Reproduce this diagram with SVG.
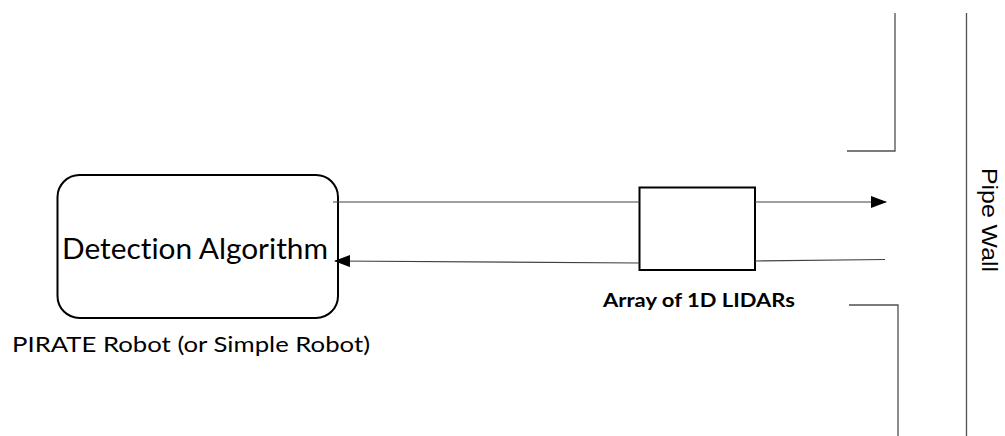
<svg xmlns="http://www.w3.org/2000/svg" width="1005" height="436" viewBox="0 0 1005 436">
<style>
.node{fill:#fff;stroke:#000;stroke-width:2}
.conn{fill:none;stroke:#404040;stroke-width:1.2}
.wall{fill:none;stroke:#505050;stroke-width:1.3}
.t{font-family:Lato,"Open Sans","Liberation Sans",sans-serif;fill:#000;font-variant-ligatures:none}
.tw{font-family:"Liberation Sans",Arial,sans-serif;fill:#000}
</style>
<defs>
<marker id="ah" markerWidth="16" markerHeight="12" refX="15" refY="6" orient="auto" markerUnits="userSpaceOnUse">
<path d="M0,0 L16,6 L0,12 Z" fill="#000"/>
</marker>
</defs>
<rect width="1005" height="436" fill="#fff"/>
<g id="detection">
<rect class="node" x="57.5" y="175" width="280.5" height="143" rx="22" ry="22"/>
<text class="t" x="62" y="259" font-size="29" textLength="266" lengthAdjust="spacingAndGlyphs">Detection Algorithm</text>
</g>
<g id="robot-label">
<text class="t" x="12" y="352" font-size="21" textLength="358" lengthAdjust="spacingAndGlyphs">PIRATE Robot (or Simple Robot)</text>
</g>
<g id="lidar">
<rect class="node" x="639.5" y="187.5" width="115.5" height="82.5"/>
<text class="t" x="603" y="307" font-size="18" font-weight="bold" textLength="192" lengthAdjust="spacingAndGlyphs">Array of 1D LIDARs</text>
</g>
<g id="pipe-wall">
<polyline class="wall" points="895,13 895,151 847,151"/>
<polyline class="wall" points="849,305 898,305 898,436"/>
<line class="wall" x1="966.5" y1="13" x2="966.5" y2="436"/>
<text class="tw" transform="translate(982,168) rotate(90)" font-size="22.5" textLength="104" lengthAdjust="spacingAndGlyphs">Pipe Wall</text>
</g>
<g id="connectors">
<line class="conn" x1="333" y1="202" x2="639.5" y2="202"/>
<line class="conn" x1="755" y1="202" x2="886" y2="202" marker-end="url(#ah)"/>
<line class="conn" x1="885" y1="259.5" x2="755" y2="261"/>
<line class="conn" x1="639.5" y1="263" x2="335" y2="261" marker-end="url(#ah)"/>
</g>
</svg>
